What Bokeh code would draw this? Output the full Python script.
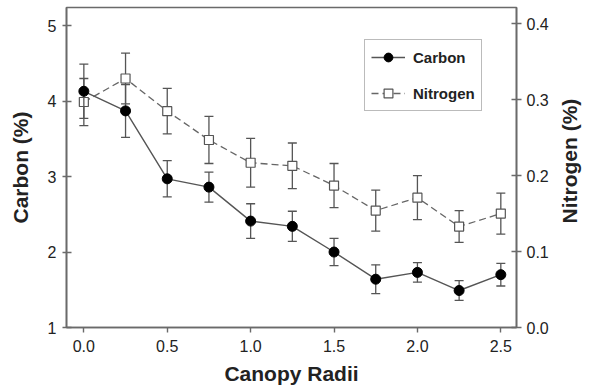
import math
from bokeh.plotting import figure
from bokeh.layouts import row
from bokeh.models import (Range1d, LinearAxis, FixedTicker, PrintfTickFormatter,
                          Legend, LegendItem, Label)
from bokeh.embed import file_html
from bokeh.resources import INLINE

# ---- data ----
radii = [0.0, 0.25, 0.5, 0.75, 1.0, 1.25, 1.5, 1.75, 2.0, 2.25, 2.5]
carbon = [4.13, 3.87, 2.97, 2.86, 2.41, 2.34, 2.00, 1.64, 1.73, 1.49, 1.70]
carbon_err = [0.36, 0.35, 0.24, 0.20, 0.23, 0.20, 0.18, 0.19, 0.13, 0.13, 0.15]
nitrogen = [0.297, 0.328, 0.285, 0.247, 0.217, 0.213, 0.187, 0.154, 0.171, 0.133, 0.150]
nitrogen_err = [0.031, 0.0335, 0.030, 0.031, 0.032, 0.030, 0.029, 0.027, 0.029, 0.021, 0.027]

x_ticks = [0.0, 0.5, 1.0, 1.5, 2.0, 2.5]
c_ticks = [1, 2, 3, 4, 5]
n_ticks = [0.0, 0.1, 0.2, 0.3, 0.4]

c_up = [v + e for v, e in zip(carbon, carbon_err)]
c_lo = [v - e for v, e in zip(carbon, carbon_err)]
n_up = [v + e for v, e in zip(nitrogen, nitrogen_err)]
n_lo = [v - e for v, e in zip(nitrogen, nitrogen_err)]

FONT = "Liberation Sans"
AX = "#6a6a6a"
TXT = "#222222"
LN = "#555555"
TITLE_SIZE = "21px"

MAIN_W, SIDE_W, H = 555, 34, 390

p = figure(width=MAIN_W, height=H, output_backend="svg", toolbar_location=None,
           x_range=Range1d(-0.104, 2.594), y_range=Range1d(1.0, 5.24),
           min_border_left=66, min_border_right=39, min_border_top=7,
           min_border_bottom=63)
p.extra_y_ranges = {"n": Range1d(0.0, 0.4215)}
p.xgrid.visible = False
p.ygrid.visible = False
p.outline_line_color = AX
p.outline_line_width = 1.6
p.background_fill_color = "white"
p.border_fill_color = "white"

def style_axis(ax, tick_in, tick_out, lab_standoff, axlab_standoff):
    ax.axis_line_color = AX
    ax.axis_line_width = 1.6
    ax.major_tick_line_color = AX
    ax.major_tick_line_width = 1.4
    ax.major_tick_in = tick_in
    ax.major_tick_out = tick_out
    ax.minor_tick_line_color = None
    ax.major_label_text_font = FONT
    ax.major_label_text_font_size = "16px"
    ax.major_label_text_color = TXT
    ax.major_label_standoff = lab_standoff
    ax.axis_label_text_font = FONT
    ax.axis_label_text_font_size = TITLE_SIZE
    ax.axis_label_text_font_style = "bold"
    ax.axis_label_text_color = TXT
    ax.axis_label_standoff = axlab_standoff

# bottom axis
xa = p.xaxis[0]
xa.ticker = FixedTicker(ticks=x_ticks)
xa.formatter = PrintfTickFormatter(format="%.1f")
xa.axis_label = "Canopy Radii"
style_axis(xa, 0, 5, 7, 7)

# left axis
ya = p.yaxis[0]
ya.ticker = FixedTicker(ticks=c_ticks)
ya.formatter = PrintfTickFormatter(format="%d")
ya.axis_label = "Carbon (%)"
style_axis(ya, 5, 4, 6, 13)

# right axis (its title sits in a narrow side panel, reading bottom-to-top)
ra = LinearAxis(y_range_name="n")
ra.ticker = FixedTicker(ticks=n_ticks)
ra.formatter = PrintfTickFormatter(format="%.1f")
style_axis(ra, 5, 5, 5, 9)
p.add_layout(ra, "right")

# ---- nitrogen series (right axis) ----
p.segment(x0=radii, y0=n_lo, x1=radii, y1=n_up, line_color=LN, line_width=1.3,
          y_range_name="n")
p.scatter(radii, n_up, marker="dash", size=9, line_color=LN, line_width=1.3,
          y_range_name="n")
p.scatter(radii, n_lo, marker="dash", size=9, line_color=LN, line_width=1.3,
          y_range_name="n")
n_line = p.line(radii, nitrogen, line_color="#666666", line_width=1.3,
                line_dash="7 4", y_range_name="n")
n_pts = p.scatter(radii, nitrogen, marker="square", size=9, fill_color="white",
                  line_color="#555555", line_width=1.2, y_range_name="n")

# ---- carbon series (left axis) ----
p.segment(x0=radii, y0=c_lo, x1=radii, y1=c_up, line_color=LN, line_width=1.3)
p.scatter(radii, c_up, marker="dash", size=9, line_color=LN, line_width=1.3)
p.scatter(radii, c_lo, marker="dash", size=9, line_color=LN, line_width=1.3)
c_line = p.line(radii, carbon, line_color=LN, line_width=1.4)
c_pts = p.scatter(radii, carbon, marker="circle", size=10, fill_color="black",
                  line_color="black")

legend = Legend(items=[LegendItem(label="Carbon", renderers=[c_line, c_pts]),
                       LegendItem(label="Nitrogen", renderers=[n_line, n_pts])],
                location=(298, 216), margin=0, padding=6, spacing=14,
                glyph_width=34, glyph_height=22, label_height=22,
                label_standoff=8,
                label_text_font=FONT, label_text_font_size="15px",
                label_text_font_style="bold", label_text_color=TXT,
                border_line_color="#777777", border_line_width=1.5,
                background_fill_color="white", background_fill_alpha=1.0)
p.add_layout(legend, "center")

# ---- narrow side panel holding the right-hand axis title ----
side = figure(width=SIDE_W, height=H, output_backend="svg", toolbar_location=None,
              x_range=Range1d(0, SIDE_W), y_range=Range1d(0, H),
              min_border=0, min_border_left=0, min_border_right=0,
              min_border_top=0, min_border_bottom=0)
side.axis.visible = False
side.xgrid.visible = False
side.ygrid.visible = False
side.outline_line_color = None
side.background_fill_color = "white"
side.border_fill_color = "white"
side.add_layout(Label(x=SIDE_W * 0.42, y=H * 0.52, text="Nitrogen (%)",
                      angle=math.pi / 2, text_align="center",
                      text_baseline="middle", text_font=FONT,
                      text_font_size=TITLE_SIZE, text_font_style="bold",
                      text_color=TXT))

layout = row(p, side, spacing=0)
open("out.html", "w").write(file_html(layout, INLINE))
